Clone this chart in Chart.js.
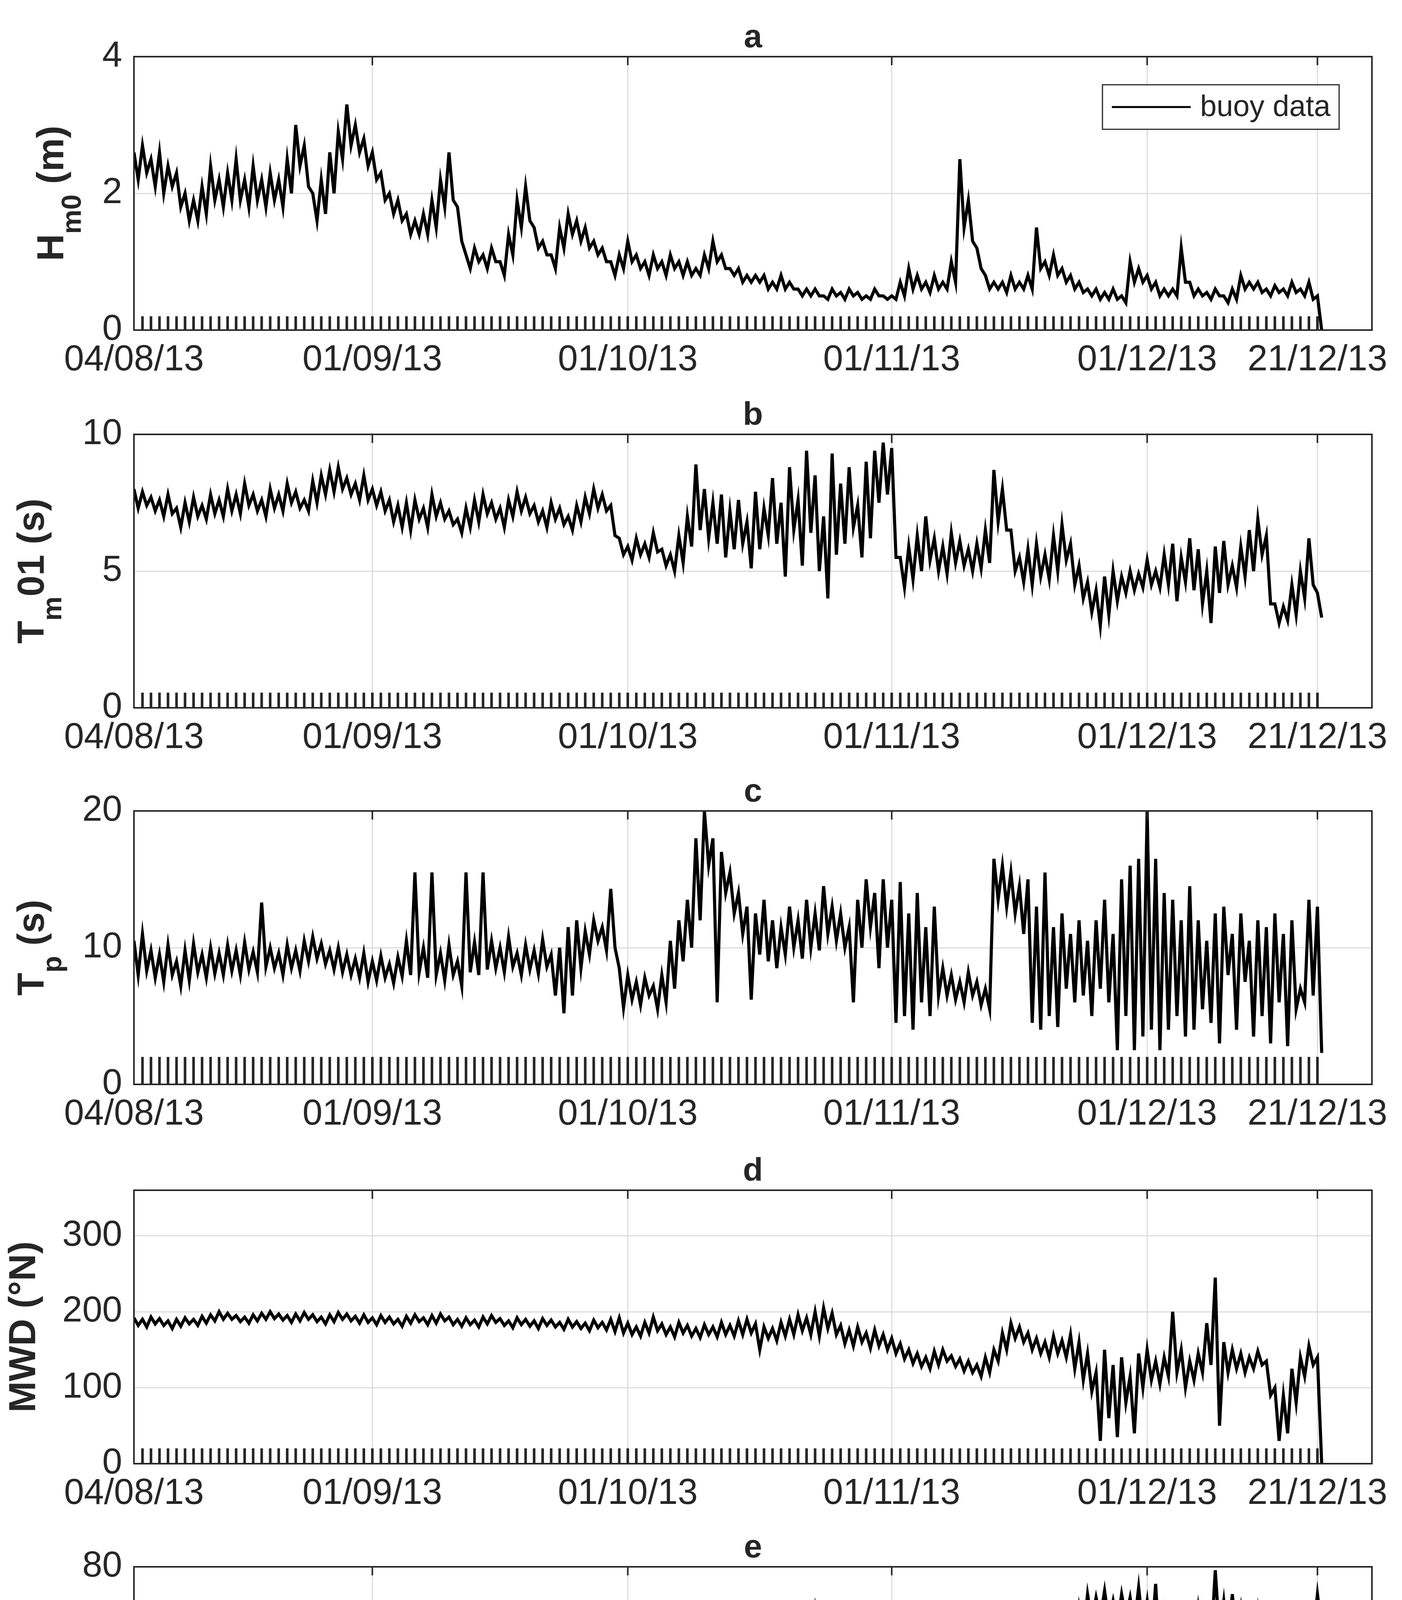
<!DOCTYPE html>
<html><head><meta charset="utf-8">
<script src="https://cdn.jsdelivr.net/npm/chart.js@4/dist/chart.umd.min.js"></script>
<style>body{margin:0;background:#fff;width:3590px;height:4877px;position:relative;overflow:hidden}canvas{position:absolute;left:0}</style>
</head><body>
<script>
// Half-day samples: for each day, [value at day, value at day+0.5]
const hm0 = [2.6,2.2,2.7,2.3,2.5,2.1,2.6,2.0,2.4,2.1,2.3,1.8,2.0,1.6,1.9,1.6,2.1,1.7,2.4,1.9,2.2,1.8,2.3,1.9,2.5,1.9,2.2,1.8,2.4,1.9,2.2,1.8,2.3,1.9,2.2,1.8,2.5,2.0,3.0,2.4,2.7,2.1,2.0,1.6,2.2,1.7,2.6,2.0,2.9,2.5,3.3,2.7,3.0,2.6,2.8,2.4,2.6,2.2,2.3,1.9,2.0,1.7,1.9,1.6,1.7,1.4,1.6,1.4,1.7,1.4,1.9,1.5,2.2,1.8,2.6,1.9,1.8,1.3,1.1,0.9,1.2,1.0,1.1,0.9,1.2,1.0,1.0,0.8,1.4,1.1,1.9,1.5,2.1,1.6,1.5,1.2,1.3,1.1,1.1,0.9,1.5,1.2,1.7,1.4,1.6,1.3,1.5,1.2,1.3,1.1,1.2,1.0,1.0,0.8,1.1,0.9,1.3,1.0,1.1,0.9,1.0,0.8,1.1,0.9,1.0,0.8,1.1,0.9,1.0,0.8,1.0,0.8,0.9,0.8,1.1,0.9,1.3,1.0,1.1,0.9,0.9,0.8,0.9,0.7,0.8,0.7,0.8,0.7,0.8,0.6,0.7,0.6,0.8,0.6,0.7,0.6,0.6,0.5,0.6,0.5,0.6,0.5,0.5,0.45,0.6,0.5,0.55,0.45,0.6,0.5,0.55,0.45,0.5,0.45,0.6,0.5,0.5,0.45,0.5,0.45,0.7,0.5,0.9,0.6,0.8,0.6,0.7,0.55,0.8,0.6,0.7,0.6,1.0,0.7,2.5,1.5,1.9,1.3,1.2,0.9,0.8,0.6,0.7,0.6,0.7,0.55,0.8,0.6,0.7,0.6,0.8,0.6,1.5,0.9,1.0,0.8,1.1,0.8,0.9,0.7,0.8,0.6,0.7,0.55,0.6,0.5,0.6,0.45,0.55,0.45,0.6,0.45,0.5,0.4,1.0,0.7,0.9,0.7,0.8,0.6,0.7,0.5,0.6,0.5,0.6,0.5,1.2,0.7,0.7,0.5,0.6,0.5,0.55,0.45,0.6,0.5,0.5,0.4,0.6,0.45,0.8,0.6,0.7,0.6,0.7,0.55,0.6,0.5,0.65,0.55,0.6,0.5,0.7,0.55,0.6,0.5,0.7,0.45,0.5,0];
const tm01 = [8.0,7.3,7.9,7.4,7.7,7.2,7.6,7.0,7.8,7.1,7.3,6.6,7.5,6.8,7.7,7.0,7.4,6.9,7.8,7.1,7.6,7.0,8.0,7.2,7.8,7.1,8.2,7.4,7.8,7.2,7.6,7.0,8.0,7.3,7.8,7.2,8.2,7.5,7.9,7.3,7.6,7.2,8.3,7.5,8.5,7.8,8.7,7.9,8.8,8.0,8.4,7.8,8.2,7.6,8.5,7.6,8.0,7.4,7.9,7.2,7.6,6.8,7.4,6.6,7.5,6.5,7.6,6.9,7.3,6.6,7.8,7.0,7.5,6.9,7.2,6.7,6.9,6.4,7.3,6.6,7.6,6.8,7.8,7.1,7.5,6.9,7.3,6.6,7.6,7.0,7.9,7.2,7.7,7.1,7.4,6.8,7.2,6.6,7.5,6.9,7.3,6.7,7.0,6.5,7.4,6.8,7.7,7.1,8.0,7.3,7.8,7.2,7.4,6.3,6.2,5.6,5.9,5.4,6.2,5.6,6.0,5.5,6.4,5.7,5.8,5.2,5.6,5.0,6.3,5.3,7.0,5.9,8.9,6.5,8.0,6.2,7.5,6.0,7.8,5.5,7.2,5.8,7.6,6.0,6.8,5.1,7.9,5.8,7.3,6.3,8.4,6.0,7.5,4.8,8.8,6.5,7.6,5.2,9.4,6.4,8.5,5.0,7.0,4.0,9.3,5.6,8.2,6.0,8.8,6.6,7.4,5.5,9.0,6.2,9.4,7.5,9.7,7.8,9.5,5.5,5.5,4.4,5.9,4.7,6.3,5.0,7.0,5.4,6.2,5.0,5.9,4.9,6.4,5.3,6.1,5.2,5.8,5.0,6.0,5.1,6.5,5.3,8.7,6.8,8.0,6.5,6.5,5.0,5.5,4.6,5.8,4.5,6.0,4.8,5.6,4.7,6.3,5.0,6.7,5.4,6.0,4.5,5.2,4.0,4.6,3.5,4.3,3.0,4.8,3.4,5.0,3.9,4.8,4.2,5.0,4.3,4.9,4.4,5.4,4.5,5.0,4.4,5.6,4.5,6.0,3.9,5.5,4.6,6.2,4.3,5.8,3.8,5.0,3.1,5.9,4.2,6.1,4.5,5.2,4.4,5.9,4.8,6.5,5.0,6.9,5.6,6.3,3.8,3.8,3.1,3.7,3.2,4.5,3.4,5.0,4.0,6.2,4.5,4.2,3.3];
const tp = [10.5,8.0,11.0,8.3,9.8,7.8,9.5,7.5,10.2,8.0,9.0,7.2,9.8,7.6,10.3,8.2,9.5,7.8,10.0,8.1,9.6,8.0,10.2,8.3,9.8,8.0,10.4,8.4,9.7,8.2,13.3,8.6,10.0,8.5,9.6,8.0,10.2,8.5,9.8,8.3,10.5,9.0,10.8,9.2,10.3,8.8,9.8,8.4,10.0,8.2,9.5,8.0,9.2,7.8,9.6,7.5,9.0,7.6,9.4,7.8,8.8,7.4,9.3,7.9,10.5,8.0,15.5,8.2,10.0,7.8,15.5,8.0,9.6,7.6,10.2,8.0,9.0,7.2,15.5,8.2,10.4,8.0,15.5,8.4,10.5,8.5,10.0,8.2,10.8,8.6,9.6,8.0,10.2,8.4,9.8,8.1,10.6,8.6,9.5,6.5,10.0,5.2,11.5,6.5,12.0,8.5,11.2,9.5,12.0,10.5,11.5,9.8,14.3,10.0,8.5,5.6,8.0,6.2,7.5,5.8,7.8,6.5,7.2,5.5,8.0,6.0,10.5,7.0,12.0,9.0,13.5,10.0,18.0,12.0,20.0,16.0,18.0,6.0,17.0,14.0,15.5,12.5,14.0,11.0,13.0,6.2,12.5,9.5,13.5,9.0,12.0,8.5,11.5,9.5,13.0,10.0,12.0,9.2,13.5,10.0,12.5,9.8,14.5,11.0,13.0,10.5,12.5,10.0,11.5,6.0,13.5,10.0,15.0,11.5,14.0,8.5,15.0,10.0,13.5,4.5,14.8,5.0,12.5,4.0,14.0,6.0,11.5,5.0,13.0,6.5,8.5,6.5,8.0,6.2,7.5,6.0,8.2,6.5,7.5,5.8,7.0,5.5,16.5,13.5,16.0,13.0,15.5,12.5,14.5,11.0,15.0,4.5,13.0,4.0,15.5,5.0,11.5,4.2,12.5,7.0,11.0,6.0,12.0,6.5,10.5,5.0,12.0,7.0,13.5,6.0,11.0,2.5,15.0,5.0,16.0,2.5,16.5,3.5,20.0,4.0,16.5,2.5,14.0,4.0,13.5,5.0,12.0,3.5,14.5,4.0,12.0,5.5,10.5,4.5,12.5,3.0,13.0,8.0,11.0,4.0,12.5,7.5,10.5,3.5,12.0,5.0,11.5,3.0,12.5,6.0,11.0,2.8,12.0,5.5,7.0,6.0,13.5,6.5,13.0,2.3];
const mwd = [192,182,190,180,193,184,191,182,188,178,190,181,192,184,190,182,194,185,196,188,200,190,198,190,195,187,193,185,196,188,198,190,200,191,197,189,195,186,197,188,199,190,196,187,193,184,196,187,199,190,197,188,194,185,196,186,192,183,195,186,193,184,190,181,194,185,196,187,192,183,195,185,197,188,193,183,190,181,192,183,189,180,193,184,195,186,191,182,188,179,192,183,190,181,188,178,191,182,189,180,186,177,190,180,187,178,185,175,189,179,186,176,190,174,192,172,185,170,180,168,186,172,193,175,184,170,180,167,186,172,182,168,178,166,183,170,180,167,186,170,182,168,188,170,190,172,184,150,180,165,178,162,186,168,190,170,196,175,192,170,200,168,205,178,198,170,182,158,176,155,180,160,172,152,176,155,170,150,165,145,158,138,150,132,145,128,140,125,148,130,150,135,142,128,138,122,135,120,130,115,140,120,150,135,172,150,185,165,180,160,172,150,165,145,160,140,168,145,162,140,170,125,160,110,145,95,120,30,150,60,130,35,140,80,115,40,145,100,150,110,135,105,140,115,200,120,150,100,135,110,145,120,185,130,245,50,160,120,150,125,145,120,140,125,148,130,135,90,100,30,90,40,125,80,140,115,155,130,140,0];
const sigma = [56,46,58,48,55,45,57,47,54,44,56,47,55,45,57,48,54,44,56,46,55,45,53,43,55,44,52,42,54,44,56,45,53,43,55,44,52,42,54,43,53,42,55,44,52,43,54,44,56,45,53,43,55,45,57,46,54,44,56,46,55,45,57,47,54,44,58,46,55,46,57,48,54,45,56,47,53,44,55,46,57,47,54,45,56,47,55,46,58,48,56,47,59,49,57,48,60,50,58,49,60,51,59,50,61,52,60,51,62,53,64,54,68,33,52,40,50,38,55,42,48,37,53,40,56,44,50,39,54,42,51,40,55,44,60,50,62,54,61,55,63,56,62,55,65,57,63,56,66,58,64,57,66,59,65,58,67,60,66,59,68,60,64,56,65,57,63,56,64,57,62,56,65,58,63,57,66,58,64,57,62,56,63,56,61,55,60,54,59,53,57,51,55,49,56,48,58,52,60,54,62,56,64,57,66,58,63,57,65,58,62,56,60,54,62,55,59,54,61,55,64,56,68,60,72,64,71,65,73,64,70,63,72,65,71,63,74,62,70,58,75,52,66,55,64,54,60,47,65,56,68,58,66,57,79,60,70,58,72,60,68,57,65,55,67,56,64,54,68,56,66,55,62,50,60,47,70,60,72,62];

const tickDays = [0, 28, 58, 89, 119, 139];
const tickLabels = ['04/08/13', '01/09/13', '01/10/13', '01/11/13', '01/12/13', '21/12/13'];
const panelLetters = ['a', 'b', 'c', 'd', 'e'];
const yTicksA = [0, 2, 4], yTicksB = [0, 5, 10], yTicksC = [0, 10, 20], yTicksD = [0, 100, 200, 300], yTicksE = [0, 20, 40, 60, 80];

const panels = [
  {data: hm0, yMax: 4, ticks: yTicksA, stem: 0.2, label: [['H'], ['m0', 'sub'], [' (m)']], labelX: 150, top: 145, legend: true},
  {data: tm01, yMax: 10, ticks: yTicksB, stem: 0.55, label: [['T'], ['m', 'sub'], ['01 (s)']], labelX: 100, top: 1112},
  {data: tp, yMax: 20, ticks: yTicksC, stem: 2, label: [['T'], ['p', 'sub'], [' (s)']], labelX: 100, top: 2076},
  {data: mwd, yMax: 360, ticks: yTicksD, stem: 20, label: [['MWD (°N)']], labelX: 78, top: 3047},
  {data: sigma, yMax: 80, ticks: yTicksE, stem: 5, label: [['σ', 'it'], [' (°)']], labelX: 137, top: 4011},
];

const FONT = '"Liberation Sans", Arial, sans-serif';
const TXT = '#262626';
const PLOT_TOP = 145, PLOT_H = 700, XAX_H = 120, LEFT = 343, RIGHT_PAD = 77;

const decor = {
  id: 'decor',
  afterDraw(chart, args, o) {
    const ctx = chart.ctx, a = chart.chartArea, p = o.panel, idx = o.index;
    ctx.save();
    ctx.strokeStyle = TXT; ctx.lineWidth = 4;
    ctx.strokeRect(a.left, a.top, a.right - a.left, a.bottom - a.top);
    const xs = chart.scales.x;
    tickDays.forEach(d => {
      const px = xs.getPixelForValue(d);
      ctx.beginPath(); ctx.moveTo(px, a.top); ctx.lineTo(px, a.top + 22); ctx.stroke();
    });
    ctx.fillStyle = TXT; ctx.font = 'bold 84px ' + FONT; ctx.textAlign = 'center'; ctx.textBaseline = 'alphabetic';
    ctx.fillText(panelLetters[idx], (a.left + a.right) / 2, a.top - 24);
    const big = 'bold 96px ' + FONT, small = 'bold 70px ' + FONT;
    ctx.translate(p.labelX, (a.top + a.bottom) / 2);
    ctx.rotate(-Math.PI / 2);
    const fontOf = k => (k === 'sub' ? small : (k === 'it' ? 'italic ' + big : big));
    let total = 0;
    p.label.forEach(([t, k]) => { ctx.font = fontOf(k); total += ctx.measureText(t).width; });
    let x = -total / 2;
    ctx.textAlign = 'left'; ctx.textBaseline = 'middle';
    p.label.forEach(([t, k]) => {
      ctx.font = fontOf(k);
      ctx.fillText(t, x, k === 'sub' ? 38 : -14);
      x += ctx.measureText(t).width;
    });
    ctx.restore();
    if (p.legend) {
      ctx.save();
      const bx = 2823, by = a.top + 72, bw = 606, bh = 114;
      ctx.fillStyle = '#fff'; ctx.fillRect(bx, by, bw, bh);
      ctx.strokeStyle = TXT; ctx.lineWidth = 3; ctx.strokeRect(bx, by, bw, bh);
      ctx.strokeStyle = '#000'; ctx.lineWidth = 5;
      ctx.beginPath(); ctx.moveTo(bx + 24, by + bh / 2); ctx.lineTo(bx + 226, by + bh / 2); ctx.stroke();
      ctx.fillStyle = TXT; ctx.font = '76px ' + FONT; ctx.textBaseline = 'middle'; ctx.textAlign = 'left';
      ctx.fillText(chart.data.datasets[0].label, bx + 250, by + bh / 2 + 2);
      ctx.restore();
    }
  }
};

panels.forEach((p, i) => {
  const c = document.createElement('canvas');
  c.width = 3590; c.height = PLOT_TOP + PLOT_H + XAX_H;
  c.style.top = (p.top - PLOT_TOP) + 'px';
  document.body.appendChild(c);
  const pts = p.data.map((v, k) => ({x: Math.floor(k / 2) + (k % 2) * 0.5, y: v}));
  const stems = [];
  for (let d = 1; d <= 139; d++) stems.push({x: d, y: p.stem});
  new Chart(c, {
    data: {
      datasets: [
        {type: 'line', label: 'buoy data', data: pts, borderColor: '#000', borderWidth: 8, pointRadius: 0, tension: 0, order: 1},
        {type: 'bar', label: 'ticks', data: stems, backgroundColor: TXT, barThickness: 6, order: 2},
      ]
    },
    options: {
      responsive: false, animation: false, devicePixelRatio: 1,
      layout: {padding: {top: PLOT_TOP, right: RIGHT_PAD, left: 0, bottom: 0}},
      plugins: {legend: {display: false}, tooltip: {enabled: false}, decor: {panel: p, index: i}},
      scales: {
        x: {
          type: 'linear', min: 0, max: 145.4, offset: false,
          afterBuildTicks: s => { s.ticks = tickDays.map(v => ({value: v})); },
          afterFit: s => { s.height = XAX_H; },
          ticks: {autoSkip: false, maxRotation: 0, padding: 22, color: TXT, font: {family: FONT, size: 92},
            callback: (v) => tickLabels[tickDays.indexOf(v)] ?? ''},
          grid: {color: '#dcdcdc', lineWidth: 3, drawTicks: false, offset: false},
          border: {display: false}
        },
        y: {
          min: 0, max: p.yMax,
          afterBuildTicks: s => { s.ticks = p.ticks.map(v => ({value: v})); },
          afterFit: s => { s.width = LEFT; },
          ticks: {padding: 30, color: TXT, font: {family: FONT, size: 92}},
          grid: {color: '#dcdcdc', lineWidth: 3, drawTicks: false},
          border: {display: false}
        }
      }
    },
    plugins: [decor]
  });
});
</script>
</body></html>
